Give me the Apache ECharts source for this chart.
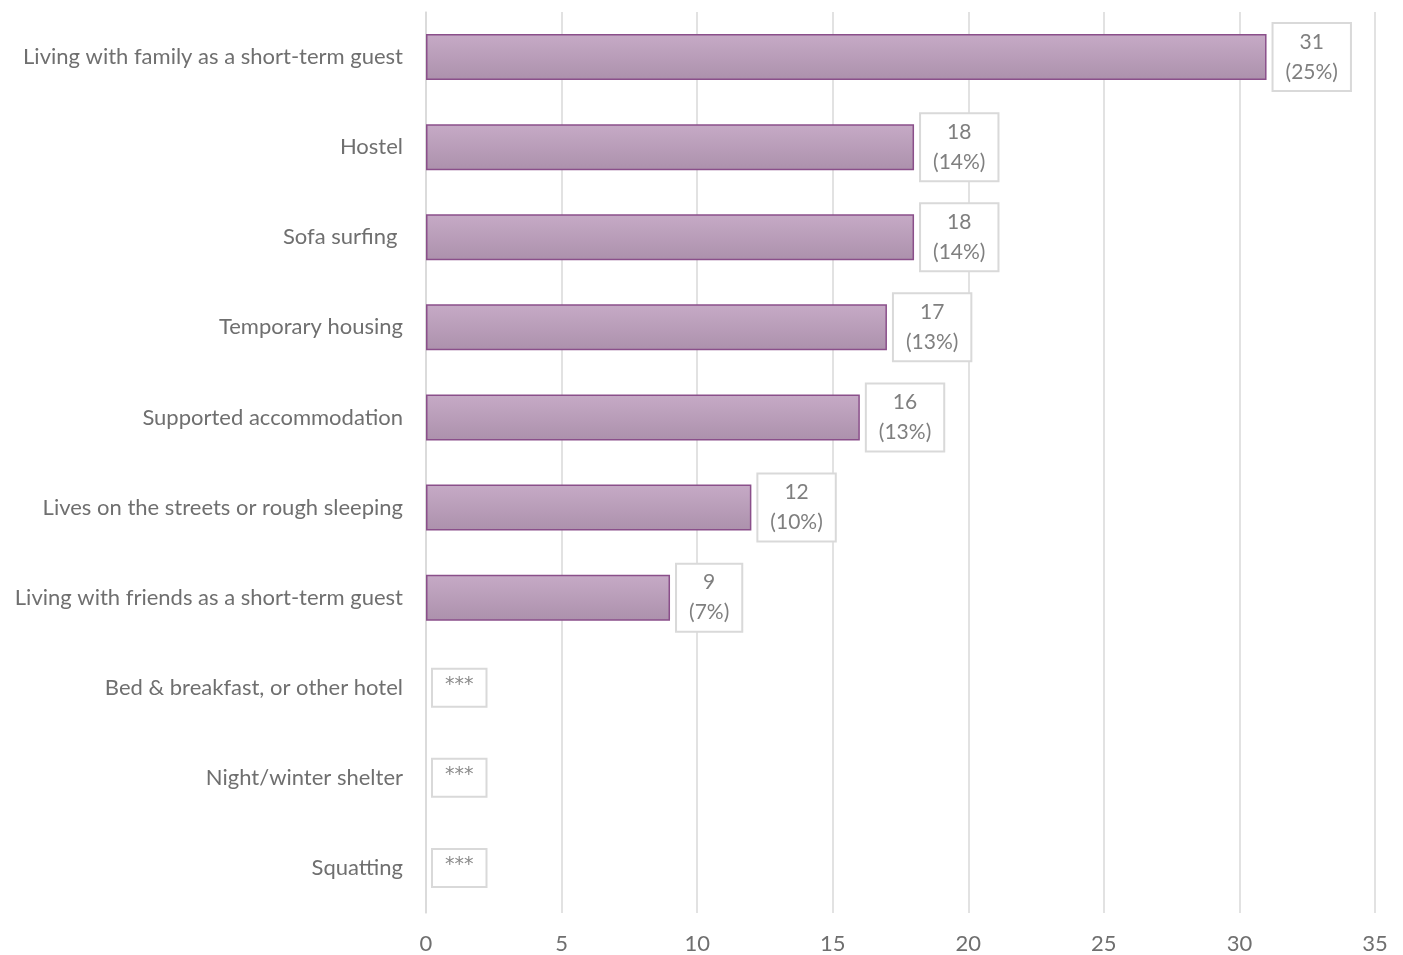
<!DOCTYPE html>
<html>
<head>
<meta charset="utf-8">
<style>
  html, body { margin: 0; padding: 0; background: #fff; }
  #chart { width: 1403px; height: 955px; }
</style>
<script src="https://cdn.jsdelivr.net/npm/echarts@6/dist/echarts.min.js"></script>
</head>
<body>
<div id="chart"></div>
<script>
const categories = [
  'Living with family as a short-term guest',
  'Hostel',
  'Sofa surfing ',
  'Temporary housing',
  'Supported accommodation',
  'Lives on the streets or rough sleeping',
  'Living with friends as a short-term guest',
  'Bed & breakfast, or other hotel',
  'Night/winter shelter',
  'Squatting'
]
const counts = [31, 18, 18, 17, 16, 12, 9, 0, 0, 0]
const percents = ['25%', '14%', '14%', '13%', '13%', '10%', '7%', null, null, null]
const xTicks = [0, 5, 10, 15, 20, 25, 30, 35]

const font = 'Lato, "Open Sans", sans-serif'
const chart = echarts.init(document.getElementById('chart'))

// suppressed values (***) have no bar, only the label box
const barData = counts.map(v => v > 0 ? v : { value: v, itemStyle: { borderWidth: 0 } })

chart.setOption({
  animation: false,
  grid: { left: 426, right: 28, top: 12, bottom: 40 },
  xAxis: {
    type: 'value',
    min: xTicks[0],
    max: xTicks[xTicks.length - 1],
    interval: 5,
    axisLine: { show: false },
    axisTick: { show: false },
    axisLabel: { color: '#6f6f6f', fontSize: 22, fontFamily: font, margin: 20 },
    splitLine: { lineStyle: { color: '#d9d9d9', width: 1.5 } }
  },
  yAxis: {
    type: 'category',
    inverse: true,
    data: categories,
    axisLine: { show: true, lineStyle: { color: '#d9d9d9', width: 1.5 } },
    axisTick: { show: false },
    axisLabel: { color: '#6f6f6f', fontSize: 22, fontFamily: font, margin: 23 }
  },
  series: [{
    type: 'bar',
    barWidth: 46,
    data: barData,
    itemStyle: {
      color: new echarts.graphic.LinearGradient(0, 0, 0, 1, [
        { offset: 0, color: '#c6aac6' },
        { offset: 1, color: '#ac91ac' }
      ]),
      borderColor: '#8a4f8a',
      borderWidth: 1.5
    },
    label: {
      show: true,
      position: 'right',
      distance: 7,
      color: '#7f7f7f',
      fontSize: 21,
      fontFamily: font,
      lineHeight: 30,
      backgroundColor: '#fff',
      borderColor: '#d9d9d9',
      borderWidth: 2,
      padding: [3, 12, 3, 12],
      formatter: p => {
        const pct = percents[p.dataIndex]
        return pct ? '{c|' + p.value + '}\n{c|(' + pct + ')}' : '{s|***}'
      },
      rich: {
        c: { align: 'center', color: '#7f7f7f', fontSize: 21, fontFamily: font, lineHeight: 30 },
        s: { color: '#8a8a8a', fontSize: 19, fontFamily: '"DejaVu Sans", sans-serif', lineHeight: 30, padding: [0, 0, 5, 0] }
      }
    }
  }]
})
</script>
</body>
</html>
